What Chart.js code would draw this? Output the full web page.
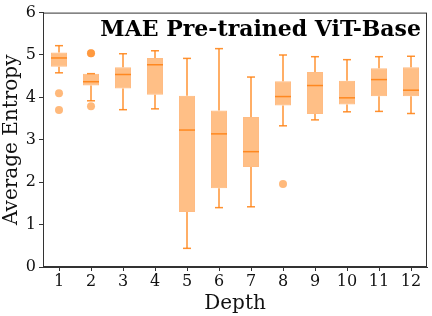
<!DOCTYPE html>
<html>
<head>
<meta charset="utf-8">
<script src="https://cdn.jsdelivr.net/npm/chart.js@4/dist/chart.umd.min.js"></script>
<style>
  html, body { margin: 0; padding: 0; background: #fff; }
  #wrap { width: 432px; height: 316px; }
</style>
</head>
<body>
<div id="wrap"><canvas id="chart" width="432" height="316"></canvas></div>
<script>
const depths = ["1", "2", "3", "4", "5", "6", "7", "8", "9", "10", "11", "12"];
const whiskerLow = [4.58, 3.92, 3.71, 3.73, 0.44, 1.40, 1.42, 3.33, 3.47, 3.66, 3.67, 3.62];
const q1 = [4.72, 4.28, 4.21, 4.06, 1.30, 1.86, 2.36, 3.81, 3.61, 3.83, 4.03, 4.03];
const medians = [4.93, 4.37, 4.54, 4.77, 3.23, 3.14, 2.72, 4.02, 4.28, 3.99, 4.42, 4.17];
const q3 = [5.06, 4.56, 4.71, 4.93, 4.04, 3.69, 3.54, 4.38, 4.60, 4.39, 4.69, 4.71];
const whiskerHigh = [5.22, 4.56, 5.03, 5.10, 4.92, 5.15, 4.48, 5.00, 4.96, 4.89, 4.96, 4.97];
const outliers = [
  { x: "1", y: 4.10 }, { x: "1", y: 3.70 },
  { x: "2", y: 5.04 }, { x: "2", y: 5.04 }, { x: "2", y: 3.79 },
  { x: "8", y: 1.96 }
];
const yTicks = [0, 1, 2, 3, 4, 5, 6];

const orange = "rgba(255,127,14,0.85)";
const serif = "'DejaVu Serif', serif";

const whiskerPlugin = {
  id: "whiskers",
  afterDatasetsDraw(chart) {
    const { ctx, scales: { x, y } } = chart;
    const meta = chart.getDatasetMeta(0);
    ctx.save();
    ctx.strokeStyle = orange;
    ctx.lineWidth = 1.5;
    depths.forEach((d, i) => {
      const bar = meta.data[i];
      const cx = x.getPixelForValue(i);
      const half = bar.width / 2;
      const cap = bar.width / 4;
      const lines = [
        [cx, y.getPixelForValue(whiskerLow[i]), cx, y.getPixelForValue(q1[i])],
        [cx, y.getPixelForValue(q3[i]), cx, y.getPixelForValue(whiskerHigh[i])],
        [cx - cap, y.getPixelForValue(whiskerLow[i]), cx + cap, y.getPixelForValue(whiskerLow[i])],
        [cx - cap, y.getPixelForValue(whiskerHigh[i]), cx + cap, y.getPixelForValue(whiskerHigh[i])],
        [cx - half, y.getPixelForValue(medians[i]), cx + half, y.getPixelForValue(medians[i])]
      ];
      lines.forEach(([x1, y1, x2, y2]) => {
        ctx.beginPath();
        ctx.moveTo(x1, y1);
        ctx.lineTo(x2, y2);
        ctx.stroke();
      });
    });
    ctx.restore();
  },
  afterDraw(chart) {
    const { ctx, chartArea: a } = chart;
    ctx.save();
    ctx.strokeStyle = "#333";
    ctx.lineWidth = 1;
    ctx.strokeRect(a.left + 0.5, a.top + 0.5, a.right - a.left - 1, a.bottom - a.top - 1);
    ctx.fillStyle = "#000";
    ctx.font = "bold 22px " + serif;
    ctx.textAlign = "right";
    ctx.textBaseline = "alphabetic";
    ctx.fillText("MAE Pre-trained ViT-Base", a.right - 6, a.top + 23);
    ctx.restore();
  }
};

new Chart(document.getElementById("chart"), {
  data: {
    labels: depths,
    datasets: [
      {
        type: "bar",
        data: q1.map((v, i) => [v, q3[i]]),
        backgroundColor: "rgba(255,127,14,0.5)",
        borderColor: "rgba(255,160,80,0.7)",
        borderWidth: 1,
        borderSkipped: false,
        barPercentage: 0.5,
        categoryPercentage: 1,
        order: 2
      },
      {
        type: "line",
        data: outliers,
        showLine: false,
        pointRadius: 4,
        pointBackgroundColor: "rgba(255,127,14,0.55)",
        pointBorderWidth: 0,
        order: 1
      }
    ]
  },
  options: {
    responsive: false,
    animation: false,
    events: [],
    layout: { padding: { top: 8, right: 5, left: 0, bottom: 0 } },
    plugins: { legend: { display: false }, tooltip: { enabled: false } },
    scales: {
      x: {
        type: "category",
        offset: true,
        grid: { offset: false, drawOnChartArea: false, tickLength: 4, color: "#333" },
        border: { color: "#333" },
        ticks: { color: "#111", font: { family: serif, size: 16 }, padding: 1, maxRotation: 0 },
        title: { display: true, text: "Depth", color: "#111", font: { family: serif, size: 20 }, padding: { top: 0, bottom: 0 } },
        afterFit: (scale) => { scale.height = 49; }
      },
      y: {
        min: 0,
        max: 6,
        afterBuildTicks: (scale) => { scale.ticks = yTicks.map((v) => ({ value: v })); },
        grid: { drawOnChartArea: false, tickLength: 4, color: "#333" },
        border: { color: "#333" },
        ticks: { color: "#111", font: { family: serif, size: 16 }, padding: 3 },
        title: { display: true, text: "Average Entropy", color: "#111", font: { family: serif, size: 20 }, padding: { top: 0, bottom: 0 } },
        afterFit: (scale) => { scale.width = 43; }
      }
    }
  },
  plugins: [whiskerPlugin]
});
</script>
</body>
</html>
